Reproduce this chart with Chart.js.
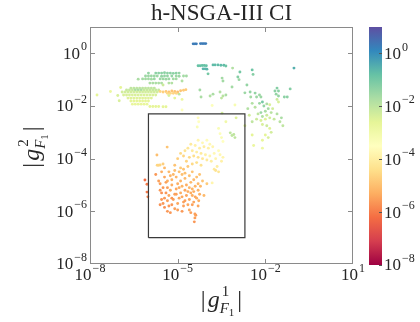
<!DOCTYPE html>
<html>
<head>
<meta charset="utf-8">
<script src="https://cdn.jsdelivr.net/npm/chart.js@4.4.1/dist/chart.umd.min.js"></script>
<style>
    html, body { margin: 0; padding: 0; background: #fff; }
</style>
</head>
<body>
<canvas id="chart" width="420" height="322"></canvas>
<script>
// Axis ticks (log scale)
const X_TICKS = [1e-8, 1e-5, 1e-2, 1e1];
const Y_TICKS = [1e-8, 1e-6, 1e-4, 1e-2, 1e0];
const CB_TICKS = [-8, -6, -4, -2, 0];   // colourbar exponents
const CB_MIN = -8, CB_MAX = 1;

// Highlighted box
const BOX_X = [1e-6, 2e-3];
const BOX_Y = [1e-7, 5e-3];

// Points as [log10 |g1|, log10 |g2|, log10 colour value]
const ptsTop = [
    [-4.47, 0.36, 0.3], [-4.41, 0.36, 0.3], [-4.36, 0.36, 0.3], [-4.22, 0.37, 0.3], [-4.16, 0.37, 0.3], [-4.10, 0.37, 0.3], [-4.04, 0.37, 0.3],
    [-4.30, -0.47, -0.8], [-4.23, -0.47, -0.8], [-4.16, -0.46, -0.8], [-4.09, -0.46, -0.8], [-4.02, -0.47, -0.8],
    [-3.79, -0.44, -0.7], [-3.72, -0.44, -0.7], [-3.62, -0.44, -0.7], [-3.52, -0.45, -0.7], [-3.42, -0.45, -0.7], [-3.35, -0.48, -0.9],
    [-4.13, -0.59, -0.6], [-4.06, -0.59, -0.6], [-4.00, -0.60, -0.6], [-3.96, -0.78, -1.0],
    [-3.12, -0.56, -1.8], [-2.87, -0.71, -1.0], [-2.45, -0.63, -0.9], [-2.42, -0.80, -1.2], [-2.94, -0.90, -1.2], [-1.02, -0.56, -0.5],
    [-3.48, -0.94, -1.6], [-3.45, -1.05, -1.6], [-3.14, -1.28, -1.6], [-2.63, -1.20, -1.4], [-2.90, -1.00, -1.5]
];

const ptsGreenRows = [
    [-6.00, -0.75, -1.4], [-5.75, -0.75, -1.3], [-5.65, -0.75, -1.3], [-5.55, -0.75, -1.3], [-5.45, -0.74, -1.3], [-5.35, -0.75, -1.3], [-5.25, -0.75, -1.3], [-5.15, -0.76, -1.3], [-5.05, -0.75, -1.3], [-4.95, -0.75, -1.4],
    [-6.10, -0.86, -1.5], [-6.00, -0.86, -1.5], [-5.90, -0.86, -1.5], [-5.80, -0.86, -1.5], [-5.70, -0.86, -1.5], [-5.55, -0.87, -1.4], [-5.45, -0.86, -1.4], [-5.35, -0.86, -1.4], [-5.20, -0.86, -1.4], [-5.05, -0.86, -1.5], [-4.95, -0.87, -1.5], [-4.80, -0.86, -1.6], [-4.70, -0.86, -1.6],
    [-6.20, -0.97, -1.6], [-6.10, -0.97, -1.6], [-6.00, -0.97, -1.6], [-5.90, -0.98, -1.6], [-5.80, -0.97, -1.5], [-5.60, -0.97, -1.5], [-5.50, -0.97, -1.5], [-5.40, -0.98, -1.5], [-5.30, -0.97, -1.5], [-5.15, -0.97, -1.6], [-5.05, -0.97, -1.6],
    [-5.95, -1.13, -1.7], [-5.85, -1.13, -1.7], [-5.75, -1.13, -1.7], [-5.65, -1.13, -1.7], [-5.55, -1.13, -1.7], [-5.30, -1.13, -1.8], [-5.20, -1.13, -1.8],
    [-6.35, -0.98, -1.7], [-4.85, -1.05, -1.8]
];

const ptsLeftRows = [
    [-6.60, -1.32, -2.0], [-6.50, -1.32, -2.0], [-6.40, -1.32, -2.0], [-6.30, -1.32, -2.0], [-6.20, -1.32, -2.0], [-6.10, -1.32, -2.0], [-6.00, -1.32, -2.0], [-5.90, -1.32, -2.0], [-5.80, -1.32, -2.0],
    [-6.75, -1.39, -2.1], [-6.65, -1.39, -2.1], [-6.55, -1.39, -2.1], [-6.45, -1.39, -1.7], [-6.35, -1.39, -1.7], [-6.25, -1.39, -1.7], [-6.15, -1.39, -2.1], [-6.05, -1.39, -2.1], [-5.95, -1.39, -2.1], [-5.85, -1.39, -2.1], [-5.75, -1.39, -2.1], [-5.65, -1.39, -2.1],
    [-6.90, -1.47, -2.3], [-6.80, -1.47, -2.3], [-6.70, -1.47, -2.3], [-6.60, -1.47, -2.3], [-6.50, -1.47, -2.3], [-6.40, -1.47, -2.3], [-6.30, -1.47, -2.3], [-6.20, -1.47, -2.3], [-6.10, -1.47, -2.3], [-6.00, -1.47, -2.3], [-5.90, -1.47, -2.3], [-5.80, -1.47, -2.3], [-5.70, -1.47, -2.3],
    [-6.85, -1.58, -2.4], [-6.75, -1.58, -2.4], [-6.65, -1.58, -2.4], [-6.55, -1.58, -2.4], [-6.45, -1.58, -2.4], [-6.35, -1.58, -2.4], [-6.25, -1.58, -2.4], [-6.15, -1.58, -2.4], [-6.05, -1.58, -2.4], [-5.95, -1.58, -2.4], [-5.85, -1.58, -2.4], [-5.75, -1.58, -2.4],
    [-6.70, -1.70, -2.5], [-6.60, -1.70, -2.5], [-6.50, -1.70, -2.5], [-6.40, -1.70, -2.5], [-6.30, -1.70, -2.5], [-6.20, -1.70, -2.5], [-6.10, -1.70, -2.5], [-6.00, -1.70, -2.5], [-5.90, -1.70, -2.5],
    [-6.60, -1.81, -2.6], [-6.50, -1.81, -2.6], [-6.40, -1.81, -2.6], [-6.30, -1.81, -2.6], [-6.20, -1.81, -2.6], [-6.10, -1.81, -2.6], [-6.00, -1.81, -2.6],
    [-6.55, -1.93, -2.7], [-6.45, -1.93, -2.7], [-6.35, -1.93, -2.7], [-6.25, -1.93, -2.7], [-6.15, -1.93, -2.7], [-6.05, -1.93, -2.7],
    [-5.95, -2.02, -2.6], [-5.85, -2.02, -2.6], [-5.75, -2.02, -2.6], [-5.65, -2.02, -2.6], [-5.50, -2.03, -2.6], [-5.40, -2.03, -2.6],
    [-7.76, -1.58, -2.6], [-7.30, -1.45, -2.8], [-7.05, -1.60, -2.4], [-6.95, -1.30, -2.6], [-7.00, -1.80, -2.4],
    [-5.50, -1.20, -2.2], [-5.30, -1.60, -2.4], [-5.10, -1.70, -2.6], [-4.95, -1.55, -2.0], [-4.85, -1.75, -2.8]
];

const ptsOrangeStreak = [
    [-5.60, -1.45, -4.6], [-5.50, -1.47, -4.7], [-5.40, -1.45, -4.8], [-5.30, -1.47, -4.9], [-5.20, -1.43, -4.9],
    [-5.10, -1.45, -4.9], [-5.00, -1.47, -5.0], [-4.90, -1.42, -4.9], [-4.80, -1.40, -4.8], [-4.72, -1.38, -4.8],
    [-5.35, -1.52, -4.5], [-5.25, -1.52, -4.5], [-5.15, -1.52, -4.6], [-5.05, -1.52, -4.6]
];

const ptsMid = [
    [-4.24, -1.39, -1.6], [-4.20, -1.66, -1.7], [-3.89, -1.62, -1.8], [-3.79, -1.55, -1.7],
    [-3.55, -1.47, -1.8], [-3.45, -1.62, -1.9], [-3.35, -1.58, -1.7], [-3.50, -1.70, -2.0],
    [-2.70, -1.50, -1.5], [-2.52, -1.47, -1.4], [-2.35, -1.51, -1.4], [-2.20, -1.58, -1.5], [-2.50, -1.66, -1.6], [-2.30, -1.66, -1.5], [-2.15, -1.66, -1.5],
    [-1.67, -1.43, -1.3], [-1.60, -1.32, -1.2], [-1.55, -1.43, -1.3], [-1.63, -1.55, -1.4], [-1.55, -1.62, -1.4], [-1.35, -1.66, -1.3], [-1.25, -1.66, -1.3], [-1.15, -1.35, -1.2]
];

const ptsRight = [
    [-2.45, -1.90, -1.8], [-2.35, -2.05, -1.9], [-2.20, -1.90, -1.5], [-2.10, -1.85, -1.0], [-2.05, -2.00, -1.4], [-1.95, -1.92, -1.7], [-1.85, -1.95, -2.4],
    [-1.90, -2.10, -1.6], [-2.00, -2.20, -1.7], [-2.15, -2.25, -1.5], [-2.25, -2.30, -2.0], [-2.10, -2.40, -1.8], [-1.95, -2.35, -2.2], [-1.80, -2.25, -1.9], [-1.75, -2.10, -2.3],
    [-2.30, -2.50, -2.2], [-2.15, -2.55, -2.4], [-2.00, -2.50, -2.5], [-1.85, -2.45, -2.3], [-1.70, -2.50, -2.1], [-1.60, -2.30, -1.8], [-1.50, -2.60, -1.9], [-1.45, -2.45, -1.7], [-1.40, -2.75, -2.0],
    [-2.45, -2.60, -2.0], [-2.60, -2.10, -1.8], [-2.55, -2.35, -2.3], [-2.10, -2.70, -2.4], [-1.95, -2.75, -2.2], [-1.85, -2.85, -2.5],
    [-2.00, -3.10, -2.6], [-1.90, -3.20, -2.4], [-2.10, -3.30, -2.7], [-1.80, -3.00, -2.3], [-2.45, -3.10, -2.6], [-2.40, -3.50, -2.8], [-2.10, -3.60, -2.9], [-2.70, -2.75, -2.5],
    [-1.60, -1.75, -2.2], [-1.55, -1.85, -2.4]
];

const ptsUpperBox = [
    [-4.30, -2.45, -3.6], [-4.28, -2.60, -3.5], [-4.33, -2.80, -3.3], [-4.85, -2.15, -3.4], [-3.82, -1.98, -3.4], [-3.04, -1.96, -3.2],
    [-3.48, -2.27, -2.3], [-3.00, -2.45, -2.5], [-3.35, -2.60, -3.0], [-3.60, -2.85, -3.3],
    [-3.55, -3.05, -3.4], [-3.50, -3.20, -3.3], [-3.45, -3.35, -3.5],
    [-3.20, -3.02, -2.0], [-3.14, -3.12, -2.0], [-3.08, -3.08, -2.0], [-3.04, -3.20, -2.0]
];

const ptsYellow = [
    [-4.30, -3.30, -3.8], [-4.15, -3.40, -3.7], [-4.00, -3.30, -3.6], [-3.90, -3.45, -3.7], [-3.80, -3.55, -3.8], [-3.95, -3.60, -3.9], [-4.10, -3.55, -4.0],
    [-4.25, -3.60, -4.0], [-4.40, -3.50, -3.9], [-4.55, -3.45, -4.1], [-4.65, -3.60, -4.2], [-4.75, -3.70, -4.3], [-4.50, -3.70, -4.1], [-4.35, -3.75, -4.0],
    [-4.20, -3.80, -4.1], [-4.05, -3.85, -3.9], [-3.90, -3.90, -3.8], [-3.75, -3.80, -3.7], [-3.60, -3.70, -3.6], [-3.55, -3.85, -3.7], [-3.70, -4.00, -3.8],
    [-3.85, -4.10, -4.0], [-4.00, -4.05, -4.1], [-4.15, -4.00, -4.2], [-4.30, -3.95, -4.3], [-4.45, -3.90, -4.4], [-4.60, -3.95, -4.5], [-4.80, -3.90, -4.6],
    [-4.90, -3.80, -4.5], [-5.00, -4.00, -4.7], [-4.70, -4.10, -4.6], [-4.50, -4.20, -4.5], [-4.35, -4.15, -4.4], [-4.20, -4.25, -4.3], [-3.65, -4.30, -4.0],
    [-3.75, -4.40, -4.1], [-3.50, -4.10, -3.9], [-3.45, -3.95, -3.8], [-3.82, -4.92, -3.8], [-3.60, -4.50, -4.2], [-3.70, -4.45, -4.3],
    [-5.70, -4.25, -4.6], [-5.65, -4.25, -4.6], [-5.60, -4.24, -4.6], [-5.50, -4.20, -4.7], [-5.36, -3.56, -4.9], [-5.71, -3.86, -5.0]
];

const ptsOrange = [
    [-6.12, -4.81, -6.2], [-6.05, -5.27, -6.0], [-6.02, -5.45, -5.9], [-6.05, -4.97, -6.0],
    [-5.45, -4.70, -5.4], [-5.40, -4.90, -5.5], [-5.35, -5.10, -5.5], [-5.40, -5.30, -5.6], [-5.45, -5.50, -5.6], [-5.50, -5.70, -5.6], [-5.45, -5.85, -5.7],
    [-5.35, -5.60, -5.5], [-5.30, -5.40, -5.4], [-5.25, -5.20, -5.3], [-5.20, -5.00, -5.3], [-5.20, -4.80, -5.2], [-5.15, -4.60, -5.1], [-5.10, -4.45, -5.0],
    [-5.05, -4.70, -5.2], [-5.00, -4.95, -5.3], [-5.05, -5.15, -5.4], [-5.10, -5.35, -5.5], [-5.15, -5.55, -5.5], [-5.20, -5.75, -5.6], [-5.10, -5.90, -5.5],
    [-5.00, -5.70, -5.4], [-4.95, -5.50, -5.4], [-4.90, -5.30, -5.3], [-4.95, -5.10, -5.3], [-4.90, -4.85, -5.2], [-4.85, -4.60, -5.0], [-4.80, -4.40, -4.9],
    [-4.75, -4.75, -5.1], [-4.70, -5.00, -5.3], [-4.75, -5.20, -5.4], [-4.70, -5.40, -5.4], [-4.75, -5.60, -5.5], [-4.80, -5.80, -5.5], [-4.85, -6.00, -5.6],
    [-4.65, -5.75, -5.4], [-4.60, -5.55, -5.4], [-4.55, -5.30, -5.3], [-4.60, -5.10, -5.2], [-4.55, -4.90, -5.1], [-4.60, -4.65, -5.0], [-4.50, -4.50, -4.9],
    [-4.45, -4.80, -5.1], [-4.40, -5.05, -5.2], [-4.45, -5.25, -5.3], [-4.40, -5.45, -5.4], [-4.45, -5.65, -5.4], [-4.35, -5.50, -5.3], [-4.30, -5.20, -5.2],
    [-4.30, -4.95, -5.1], [-4.35, -4.70, -5.0], [-4.25, -4.60, -4.9], [-4.25, -5.35, -5.3], [-4.28, -5.60, -5.3], [-4.22, -5.05, -5.1],
    [-4.41, -6.10, -5.5], [-4.41, -6.25, -5.5], [-4.43, -6.40, -5.6], [-4.38, -6.15, -5.5],
    [-5.30, -5.80, -5.6], [-5.55, -5.30, -5.7], [-5.50, -5.10, -5.6], [-5.60, -4.95, -5.5], [-4.65, -4.30, -4.8], [-4.90, -4.35, -4.8],
    [-5.10, -4.25, -4.9], [-5.30, -4.50, -5.1], [-4.15, -4.85, -4.9], [-4.10, -5.40, -5.1], [-4.00, -4.95, -4.8],
    [-5.75, -4.60, -5.6], [-5.65, -4.85, -5.5], [-5.60, -5.20, -5.6], [-5.55, -5.55, -5.6], [-5.60, -5.75, -5.7], [-5.35, -6.00, -5.6],
    [-5.25, -6.05, -5.6], [-5.00, -5.95, -5.5], [-4.60, -5.95, -5.4], [-4.55, -6.05, -5.5], [-4.95, -4.50, -5.0], [-4.75, -4.55, -5.0],
    [-5.25, -4.65, -5.2], [-5.35, -4.85, -5.3], [-4.85, -5.05, -5.2], [-4.65, -5.25, -5.3], [-4.50, -5.15, -5.2], [-4.50, -5.40, -5.3],
    [-4.30, -5.80, -5.4], [-4.50, -5.75, -5.5], [-5.20, -5.50, -5.6], [-5.05, -5.35, -5.5], [-4.85, -5.45, -5.4], [-4.80, -5.65, -5.5],
    [-5.55, -4.50, -5.3], [-5.45, -4.35, -5.1]
];

const GROUPS = [ptsTop, ptsGreenRows, ptsLeftRows, ptsOrangeStreak, ptsMid, ptsRight, ptsUpperBox, ptsYellow, ptsOrange];

// matplotlib "Spectral"
const SPECTRAL = ['#9e0142', '#d53e4f', '#f46d43', '#fdae61', '#fee08b', '#ffffbf',
                  '#e6f598', '#abdda4', '#66c2a5', '#3288bd', '#5e4fa2'];

function hexRgb(h) {
    return [parseInt(h.slice(1, 3), 16), parseInt(h.slice(3, 5), 16), parseInt(h.slice(5, 7), 16)];
}

function cmap(e) {
    let t = (e - CB_MIN) / (CB_MAX - CB_MIN);
    t = Math.max(0, Math.min(1, t));
    const s = t * (SPECTRAL.length - 1);
    const i = Math.min(SPECTRAL.length - 2, Math.floor(s));
    const f = s - i;
    const a = hexRgb(SPECTRAL[i]), b = hexRgb(SPECTRAL[i + 1]);
    const c = a.map((v, k) => Math.round(v + (b[k] - v) * f));
    return `rgb(${c[0]},${c[1]},${c[2]})`;
}

const SERIF = '"Liberation Serif", "DejaVu Serif", serif';
const TEXT = '#262626';
const FRAME = '#8a8a8a';

// "10" with a raised exponent
function drawPow10(ctx, exp, x, y, align) {
    const sup = exp < 0 ? '\u2212' + (-exp) : String(exp);
    ctx.font = `17px ${SERIF}`;
    const wb = ctx.measureText('10').width;
    ctx.font = `12px ${SERIF}`;
    const ws = ctx.measureText(sup).width;
    const total = wb + ws + 1;
    let x0 = x;
    if (align === 'right') x0 = x - total;
    else if (align === 'center') x0 = x - total / 2;
    ctx.textAlign = 'left';
    ctx.textBaseline = 'middle';
    ctx.fillStyle = TEXT;
    ctx.font = `17px ${SERIF}`;
    ctx.fillText('10', x0, y);
    ctx.font = `12px ${SERIF}`;
    ctx.fillText(sup, x0 + wb + 1, y - 7);
}

// |g^k_{F_1}| centred at (0,0) of the current transform
function drawGLabel(ctx, k) {
    ctx.textBaseline = 'alphabetic';
    ctx.textAlign = 'left';
    ctx.fillStyle = TEXT;
    const w = (t, f) => { ctx.font = f; return ctx.measureText(t).width; };
    const wBar = w('|', `24px ${SERIF}`);
    const wg = w('g', `italic 24px ${SERIF}`);
    const wSup = w(String(k), `15px ${SERIF}`);
    const wF = w('F', `italic 15px ${SERIF}`);
    const w1 = w('1', `11px ${SERIF}`);
    const scriptW = Math.max(wSup, wF + w1);
    const total = wBar + 2 + wg + 1 + scriptW + 2 + wBar;
    let x = -total / 2;
    const base = 7;
    ctx.font = `24px ${SERIF}`; ctx.fillText('|', x, base); x += wBar + 2;
    ctx.font = `italic 24px ${SERIF}`; ctx.fillText('g', x, base); x += wg + 1;
    ctx.font = `15px ${SERIF}`; ctx.fillText(String(k), x + 1, base - 11);
    ctx.font = `italic 15px ${SERIF}`; ctx.fillText('F', x - 1, base + 6);
    ctx.font = `11px ${SERIF}`; ctx.fillText('1', x - 1 + wF, base + 9);
    x += scriptW + 2;
    ctx.font = `24px ${SERIF}`; ctx.fillText('|', x, base);
}

const decorations = {
    id: 'decorations',
    afterDraw(chart) {
        const { ctx, chartArea: a, scales } = chart;
        const xs = scales.x, ys = scales.y;
        ctx.save();

        // frame + inward ticks on all four sides
        ctx.strokeStyle = FRAME;
        ctx.lineWidth = 1;
        ctx.strokeRect(a.left + 0.5, a.top + 0.5, a.right - a.left - 1, a.bottom - a.top - 1);
        ctx.beginPath();
        X_TICKS.slice(1, -1).forEach(v => {
            const px = Math.round(xs.getPixelForValue(v)) + 0.5;
            ctx.moveTo(px, a.bottom); ctx.lineTo(px, a.bottom - 5);
            ctx.moveTo(px, a.top); ctx.lineTo(px, a.top + 5);
        });
        Y_TICKS.slice(1).forEach(v => {
            const py = Math.round(ys.getPixelForValue(v)) + 0.5;
            ctx.moveTo(a.left, py); ctx.lineTo(a.left + 5, py);
            ctx.moveTo(a.right, py); ctx.lineTo(a.right - 5, py);
        });
        ctx.stroke();

        // tick labels
        X_TICKS.forEach(v => drawPow10(ctx, Math.round(Math.log10(v)), xs.getPixelForValue(v), 276, 'center'));
        Y_TICKS.forEach(v => drawPow10(ctx, Math.round(Math.log10(v)), a.left - 3, ys.getPixelForValue(v) + 1, 'right'));

        // title
        ctx.fillStyle = TEXT;
        ctx.font = `23px ${SERIF}`;
        ctx.textAlign = 'center';
        ctx.textBaseline = 'middle';
        ctx.fillText('h-NSGA-III CI', (a.left + a.right) / 2, 14);

        // axis titles
        ctx.save();
        ctx.translate((a.left + a.right) / 2, 300);
        drawGLabel(ctx, 1);
        ctx.restore();
        ctx.save();
        ctx.translate(32, 147);
        ctx.rotate(-Math.PI / 2);
        drawGLabel(ctx, 2);
        ctx.restore();

        // colourbar
        const cbL = 369, cbW = 13, cbT = a.top, cbB = a.bottom + 1;
        const grad = ctx.createLinearGradient(0, cbB, 0, cbT);
        SPECTRAL.forEach((c, i) => grad.addColorStop(i / (SPECTRAL.length - 1), c));
        ctx.fillStyle = grad;
        ctx.fillRect(cbL, cbT, cbW, cbB - cbT);
        ctx.strokeStyle = '#555';
        ctx.beginPath();
        CB_TICKS.forEach(e => {
            const py = Math.round(cbB - (e - CB_MIN) / (CB_MAX - CB_MIN) * (cbB - cbT)) + 0.5;
            ctx.moveTo(cbL + cbW - 3, py); ctx.lineTo(cbL + cbW, py);
        });
        ctx.stroke();
        CB_TICKS.forEach(e => {
            const py = cbB - (e - CB_MIN) / (CB_MAX - CB_MIN) * (cbB - cbT);
            drawPow10(ctx, e, cbL + cbW + 2, py + 1, 'left');
        });
        ctx.restore();
    }
};

const allPts = GROUPS.flat();

new Chart(document.getElementById('chart'), {
    type: 'scatter',
    data: {
        datasets: [
            {
                type: 'line',
                data: [
                    { x: BOX_X[0], y: BOX_Y[0] }, { x: BOX_X[0], y: BOX_Y[1] },
                    { x: BOX_X[1], y: BOX_Y[1] }, { x: BOX_X[1], y: BOX_Y[0] },
                    { x: BOX_X[0], y: BOX_Y[0] }
                ],
                borderColor: '#3a3a3a',
                borderWidth: 1.2,
                pointRadius: 0,
                fill: false,
                tension: 0
            },
            {
                data: allPts.map(p => ({ x: Math.pow(10, p[0]), y: Math.pow(10, p[1]) })),
                pointBackgroundColor: allPts.map(p => cmap(p[2])),
                pointBorderWidth: 0,
                pointRadius: 1.45
            }
        ]
    },
    options: {
        responsive: false,
        animation: false,
        devicePixelRatio: 1,
        layout: { padding: { top: 27, right: 67, left: 0, bottom: 0 } },
        plugins: { legend: { display: false }, tooltip: { enabled: false } },
        scales: {
            x: {
                type: 'logarithmic',
                min: 1e-8, max: 1e1,
                afterBuildTicks: s => { s.ticks = X_TICKS.map(v => ({ value: v })); },
                afterFit: s => { s.height = 58; },
                ticks: { display: false },
                grid: { display: false, drawTicks: false },
                border: { display: false }
            },
            y: {
                type: 'logarithmic',
                min: 1e-8, max: 1e1,
                afterBuildTicks: s => { s.ticks = Y_TICKS.map(v => ({ value: v })); },
                afterFit: s => { s.width = 90; },
                ticks: { display: false },
                grid: { display: false, drawTicks: false },
                border: { display: false }
            }
        }
    },
    plugins: [decorations]
});
</script>
</body>
</html>
